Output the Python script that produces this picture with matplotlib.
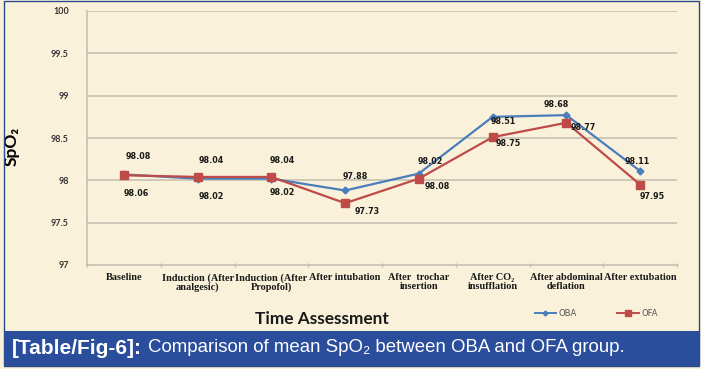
import matplotlib
matplotlib.use("Agg")
import matplotlib.pyplot as plt
from matplotlib.patches import Rectangle
from matplotlib.lines import Line2D

# ---- data ----
categories = ["Baseline", "Induction (After\nanalgesic)", "Induction (After\nPropofol)",
              "After intubation", "After  trochar\ninsertion", "After CO\u2082\ninsufflation",
              "After abdominal\ndeflation", "After extubation"]
oba = [98.07, 98.02, 98.02, 97.88, 98.08, 98.75, 98.77, 98.11]
ofa = [98.06, 98.04, 98.04, 97.73, 98.02, 98.51, 98.68, 97.95]
upper_labels = ["98.08", "98.04", "98.04", "97.88", "98.02", "98.51", "98.68", "98.11"]
lower_labels = ["98.06", "98.02", "98.02", "97.73", "98.08", "98.75", "98.77", "97.95"]
yticks = [97, 97.5, 98, 98.5, 99, 99.5, 100]

# label offsets in pixels (dx, dy up positive)
upper_off = [(14, 18), (14, 18), (11, 18), (10, 14), (11, 12), (11, -4.5), (-10, 11), (-3, 9.5)]
lower_off = [(12, -18), (14, -20), (11, -16), (22, -8), (18, -8), (16, -6), (17, -4.5), (12, -12)]

W, H = 701, 369
bg = "#FAF1DB"
fig = plt.figure(figsize=(W / 100, H / 100), dpi=100, facecolor=bg)

# outer border
fig.patches.append(Rectangle((4 / W, 1 - 366 / H), 695 / W, 365 / H, transform=fig.transFigure,
                             facecolor="none", edgecolor="#2B4C8C", lw=1.0, zorder=0))
# caption bar
fig.patches.append(Rectangle((4 / W, 1 - 366 / H), 695 / W, 35 / H, transform=fig.transFigure,
                             facecolor="#2A4E9C", edgecolor="none", zorder=1))

ax = fig.add_axes([87 / W, 1 - 265 / H, 590 / W, 254 / H])
ax.set_facecolor("none")
x = list(range(len(categories)))

grid_c = "#C2BDB0"
for v in yticks[1:]:
    ax.axhline(v, color=grid_c, lw=1.1, zorder=1)

ax.plot(x, oba, color="#4A7EBB", lw=1.6, marker="D", ms=3.5, zorder=3, label="OBA")
ax.plot(x, ofa, color="#BE4B48", lw=1.6, marker="s", ms=5.5, zorder=3, label="OFA")

for i in x:
    ax.annotate(upper_labels[i], (i, oba[i]), xytext=upper_off[i], textcoords="offset pixels",
                ha="center", va="center", fontsize=5.8, fontweight="bold", color="#1a1a1a",
                family="DejaVu Sans", zorder=4)
    ax.annotate(lower_labels[i], (i, ofa[i]), xytext=lower_off[i], textcoords="offset pixels",
                ha="center", va="center", fontsize=5.8, fontweight="bold", color="#1a1a1a",
                family="DejaVu Sans", zorder=4)

ax.set_xlim(-0.5, len(categories) - 0.5)
ax.set_ylim(97, 100)
ax.set_yticks(yticks)
ax.set_yticklabels([f"{v:g}" for v in yticks], fontsize=6.5, fontweight="bold",
                   color="#333333", family="Lato")
ax.tick_params(axis="y", length=0, pad=13)
ax.set_xticks(x)
ax.set_xticklabels(categories, fontsize=7.4, fontweight="bold", family=["Liberation Serif", "DejaVu Serif"],
                   linespacing=0.95, color="#1a1a1a")
ax.tick_params(axis="x", which="major", length=0, pad=6)
ax.set_xticks([i - 0.5 for i in range(len(categories) + 1)], minor=True)
ax.tick_params(axis="x", which="minor", length=3, color=grid_c, width=1, direction="inout")

for s in ["top", "right"]:
    ax.spines[s].set_visible(False)
for s in ["left", "bottom"]:
    ax.spines[s].set_color(grid_c)
    ax.spines[s].set_linewidth(1.1)

ax.set_ylabel("SpO\u2082", fontsize=12.5, fontweight="bold", family=["Lato", "DejaVu Sans"])
ax.yaxis.set_label_coords((20 - 87) / 590, 0.465)

fig.text(322 / W, 1 - 319 / H, "Time Assessment", ha="center", va="center", fontsize=12.4,
         fontweight="bold", family="Lato", color="#1a1a1a")

handles = [Line2D([], [], color="#4A7EBB", lw=1.4, marker="D", ms=2.5),
           Line2D([], [], color="#BE4B48", lw=1.4, marker="s", ms=4)]
fig.legend(handles, ["OBA", "OFA"], loc="center left", bbox_to_anchor=(527 / W, 1 - 313 / H),
           ncol=2, frameon=False, fontsize=6, handlelength=2.6, columnspacing=4.8,
           handletextpad=0.3, labelcolor="#555555")

t1 = fig.text(12 / W, 1 - 348 / H, "[Table/Fig-6]:", ha="left", va="center", fontsize=15,
              fontweight="bold", color="white", family=["Liberation Sans", "DejaVu Sans"], zorder=3)
fig.canvas.draw()
bb = t1.get_window_extent()
fig.text((bb.x1 + 6) / W, 1 - 348 / H, "Comparison of mean SpO\u2082 between OBA and OFA group.",
         ha="left", va="center", fontsize=13.4, color="white",
         family=["Liberation Sans", "DejaVu Sans"], zorder=3)

fig.savefig("out.png", dpi=100, facecolor=bg)
